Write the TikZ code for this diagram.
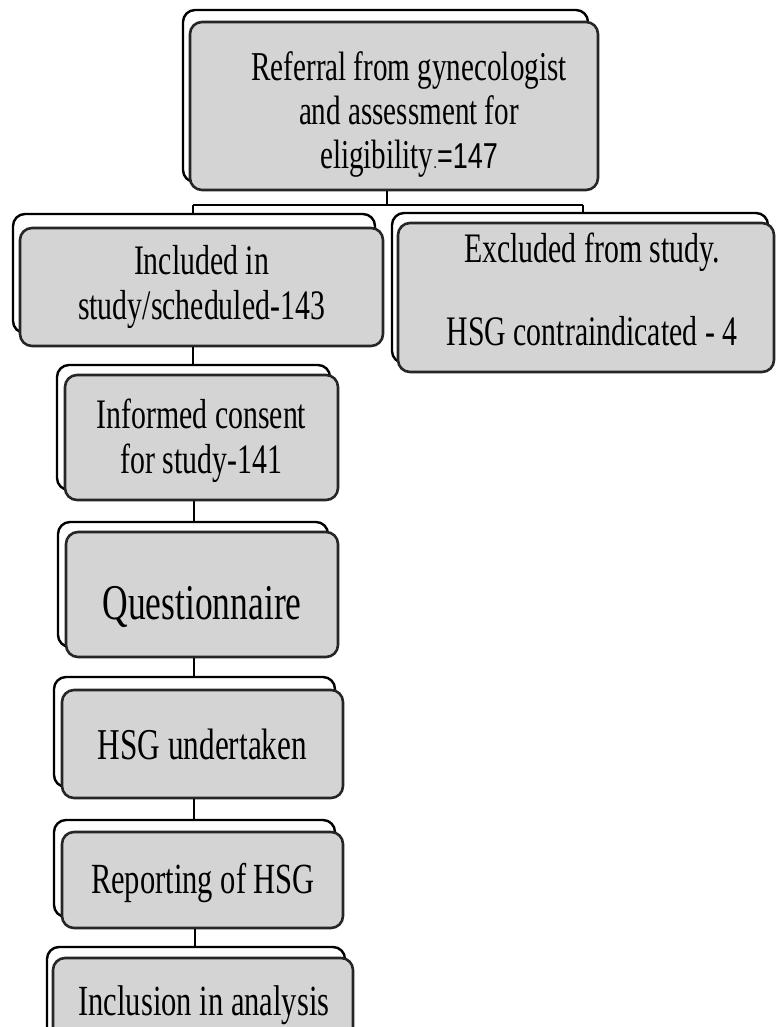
\documentclass[tikz,border=0pt]{standalone}
\usepackage{fontspec}
\setmainfont[FakeStretch=0.71]{Liberation Serif}
\newfontfamily\sansstretch[FakeStretch=0.75]{Liberation Sans}
\definecolor{boxgrey}{HTML}{D4D4D4}
\begin{document}
\begin{tikzpicture}[x=1pt,y=-1pt,
  backbox/.style={draw=black, line width=2.4pt, fill=white, rounded corners=12pt, inner sep=0pt},
  frontbox/.style={draw=black!85, line width=2.6pt, fill=boxgrey, rounded corners=12pt, inner sep=0pt, align=center, font=\fontsize{42}{45}\selectfont},
  boxtext/.style={inner sep=0pt, align=center, font=\fontsize{42}{45}\selectfont},
  link/.style={draw=black, line width=2.2pt}]
\useasboundingbox (0,0) rectangle (776,1027);
\clip (0,0) rectangle (776,1027);
% top box
\node[backbox, minimum width=405pt, minimum height=172pt] (b1) at (385.5,96) {};
\node[frontbox, minimum width=408pt, minimum height=168pt] (f1) at (394,106) {};
\node[boxtext, font=\fontsize{41}{44}\selectfont] (t1) at (409,114) {Referral from gynecologist\\and assessment for\\eligibility{\sansstretch\fontsize{18}{18}\selectfont.}{\sansstretch\fontsize{36}{44}\selectfont=147}};
% included
\node[backbox, minimum width=362pt, minimum height=119pt] (b2) at (194,273.5) {};
\node[frontbox, minimum width=363pt, minimum height=118pt] (f2) at (201.5,287) {Included in\\study/scheduled-143};
% excluded
\node[backbox, minimum width=376pt, minimum height=150pt] (b3) at (580,288) {};
\node[frontbox, minimum width=376pt, minimum height=149pt] (f3) at (586,297.5) {};
\node[boxtext] (t3) at (592,289) {Excluded from study.\\[38pt]HSG contraindicated - 4};
% informed
\node[backbox, minimum width=273pt, minimum height=125pt] (b4) at (193.5,427.5) {};
\node[frontbox, minimum width=273pt, minimum height=125pt] (f4) at (201.5,437.5) {};
\node[boxtext] (t4) at (201.5,441) {Informed consent\\for study-141};
% questionnaire
\node[backbox, minimum width=270pt, minimum height=125pt] (b5) at (193,584.5) {};
\node[frontbox, minimum width=272pt, minimum height=125pt] (f5) at (202,594.5) {};
\node[boxtext, font=\fontsize{50}{54}\selectfont] (t5) at (202,607) {Questionnaire};
% HSG undertaken
\node[backbox, minimum width=281pt, minimum height=110pt] (b6) at (194.5,732) {};
\node[frontbox, minimum width=281pt, minimum height=108pt, font=\fontsize{44}{48}\selectfont] (f6) at (202.5,744) {HSG undertaken};
% reporting
\node[backbox, minimum width=281pt, minimum height=97pt] (b7) at (194.5,868.5) {};
\node[frontbox, minimum width=281pt, minimum height=96pt] (f7) at (202.5,880) {};
\node[boxtext, font=\fontsize{43}{46}\selectfont] (t7) at (203,883) {Reporting of HSG};
% inclusion
\node[backbox, minimum width=298pt, minimum height=100pt] (b8) at (196,997) {};
\node[frontbox, minimum width=300pt, minimum height=100pt] (f8) at (203,1008) {};
\node[boxtext, font=\fontsize{43}{46}\selectfont] (t8) at (204,1005) {Inclusion in analysis};
% connectors
\coordinate (bar) at (387,205);
\draw[link] (f1.south -| bar) -- (bar);
\draw[link] (193,205) -- (583,205);
\draw[link] (b2.north -| 193,0) -- (193,205);
\draw[link] (b3.north -| 583,0) -- (583,205);
\draw[link] (f2.south -| 193,0) -- (b4.north -| 193,0);
\draw[link] (f4.south -| 194,0) -- (b5.north -| 194,0);
\draw[link] (f5.south -| 194,0) -- (b6.north -| 194,0);
\draw[link] (f6.south -| 194,0) -- (b7.north -| 194,0);
\draw[link] (f7.south -| 195,0) -- (b8.north -| 195,0);
\end{tikzpicture}
\end{document}
